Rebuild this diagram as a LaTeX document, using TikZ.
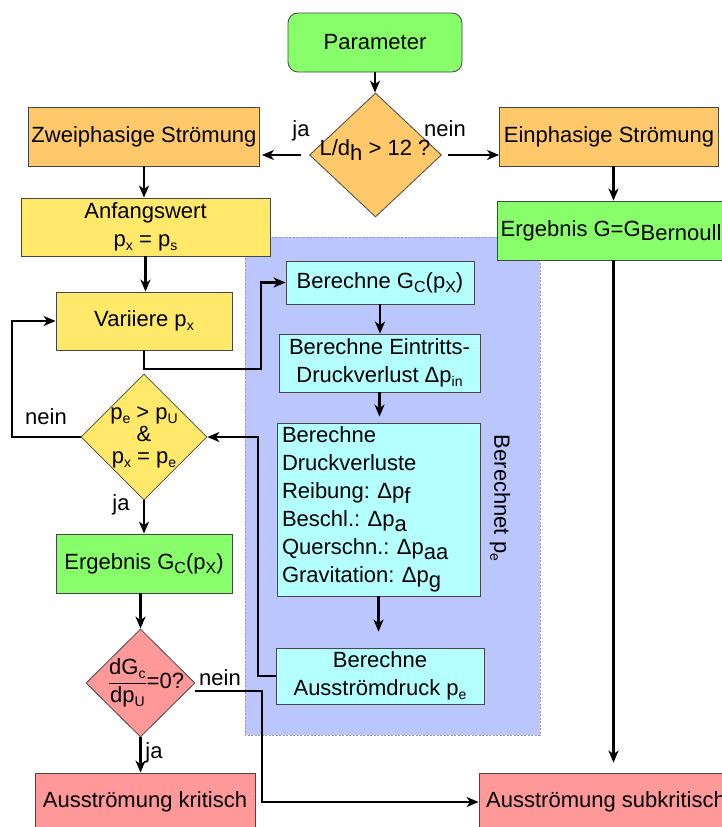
\documentclass[tikz,border=0pt]{standalone}
\usepackage{fontspec}
\setmainfont{Liberation Sans}
\usetikzlibrary{arrows.meta,shapes.geometric}
\definecolor{cgreen}{RGB}{136,255,106}
\definecolor{corange}{RGB}{255,200,106}
\definecolor{cyellow}{RGB}{255,232,106}
\definecolor{ccyan}{RGB}{180,255,255}
\definecolor{cblue}{RGB}{187,198,255}
\definecolor{cred}{RGB}{255,153,153}
\definecolor{cborder}{RGB}{70,70,70}
\newcommand{\subL}[1]{\raisebox{-4.5pt}{#1}}
\newcommand{\subM}[1]{\raisebox{-4.5pt}{\fontsize{16}{16}\selectfont #1}}
\newcommand{\subS}[1]{\raisebox{-4pt}{\fontsize{14}{14}\selectfont #1}}
\frenchspacing
\begin{document}
\begin{tikzpicture}[x=1pt,y=-1pt,
  txt/.style={font=\fontsize{22}{28}\selectfont\frenchspacing, text=black},
  box/.style={txt, draw=cborder, line width=0.8pt, rectangle, inner sep=0pt, align=center},
  diam/.style={draw=cborder, line width=0.8pt, diamond, inner sep=0pt},
  arr/.style={line width=2.1pt, -{Stealth[length=12pt,width=10pt,inset=3.5pt]}}]
\useasboundingbox (0,0) rectangle (722,827);
\clip (0,0) rectangle (722,827);
\fill[white] (0,0) rectangle (722,827);
% region
\draw[fill=cblue, draw=gray!80, dash pattern=on 2pt off 1.5pt, line width=0.8pt] (245,237) rectangle (540,735);
% nodes
\node[box, fill=cgreen, rounded corners=10pt, minimum width=174pt, minimum height=59pt] (param) at (375,42.5) {Parameter};
\node[diam, fill=corange, minimum width=132pt, minimum height=124pt] (d1) at (375.5,155) {};
\node[txt] (d1t) at (375,150) {L/d\subL{h} > 12 ?};
\node[box, fill=corange, minimum width=231pt, minimum height=59pt] (zwei) at (144,136.5) {Zweiphasige Strömung};
\node[box, fill=corange, minimum width=219pt, minimum height=59pt] (ein) at (609,136.5) {Einphasige Strömung};
\node[txt, anchor=base] (ja1) at (301,136) {ja};
\node[txt, anchor=base] (nein1) at (445,136) {nein};
\node[box, fill=cyellow, minimum width=249pt, minimum height=58pt] (anf) at (145.5,227) {Anfangswert\\p\subS{x} = p\subS{s}};
\node[box, fill=cgreen, minimum width=233pt, minimum height=59pt] (bern) at (613.5,230.5) {Ergebnis G=G\subL{Bernoulli}};
\node[box, fill=ccyan, minimum width=188pt, minimum height=43pt] (gcb) at (380,282.5) {Berechne G\subM{C}(p\subM{X})};
\node[box, fill=ccyan, minimum width=201pt, minimum height=58pt] (eintr) at (379.5,363) {Berechne Eintritts-\\Druckverlust Δp\subS{in}};
\node[box, fill=ccyan, minimum width=203pt, minimum height=173pt, align=left, text width=193pt] (druck) at (378.5,509.5) {Berechne\\Druckverluste\\Reibung: Δp\subL{f}\\Beschl.: Δp\subL{a}\\Querschn.: Δp\subL{aa}\\Gravitation: Δp\subL{g}};
\node[txt, rotate=-90] (berp) at (500,498) {Berechnet p\subS{e}};
\node[box, fill=ccyan, minimum width=208pt, minimum height=56pt] (aus) at (380,676) {Berechne\\Ausströmdruck p\subS{e}};
\node[box, fill=cyellow, minimum width=176pt, minimum height=58pt] (var) at (144,321) {Variiere p\subS{x}};
\node[diam, fill=cyellow, minimum width=126pt, minimum height=126pt] (d2) at (144,437) {};
\node[txt, font=\fontsize{22}{22}\selectfont, align=center] (d2t) at (144,437) {p\subS{e} > p\subS{U}\\\&\\p\subS{x} = p\subS{e}};
\node[txt, anchor=base] (nein2) at (46,424) {nein};
\node[txt, anchor=base] (ja2) at (121,510) {ja};
\node[box, fill=cgreen, minimum width=176pt, minimum height=59pt] (ergc) at (144,563.5) {Ergebnis G\subM{C}(p\subM{X})};
\node[diam, fill=cred, minimum width=109pt, minimum height=108pt] (d3) at (140.5,683) {};
\node[txt] (d3t) at (146,683) {$\displaystyle\frac{\mbox{dG\subS{c}}}{\mbox{dp\subS{U}}}$=0?};
\node[txt, anchor=base] (nein3) at (220,685) {nein};
\node[txt, anchor=base] (ja3) at (154,758) {ja};
\node[box, fill=cred, minimum width=220pt, minimum height=58pt] (krit) at (145,802) {Ausströmung kritisch};
\node[box, fill=cred, minimum width=254pt, minimum height=58pt] (subk) at (606,802) {Ausströmung subkritisch};
% helper coordinates
\coordinate (c1) at (261,369);
\coordinate (c2) at (258,437);
\coordinate (c3) at (12,437);
\coordinate (c5) at (262,802);
% connectors
\draw[arr] (param.south) -- (param.south |- d1.north);
\draw[arr, shorten <=8pt, shorten >=2pt] (d1.west) -- (d1.west -| zwei.east);
\draw[arr, shorten <=6pt] (d1.east) -- (d1.east -| ein.west);
\draw[arr] (zwei.south) -- (zwei.south |- anf.north);
\draw[arr] (anf.south) -- (anf.south |- var.north);
\draw[arr] (var.south) |- (c1) |- (gcb.west);
\draw[arr] (gcb.south) -- (gcb.south |- eintr.north);
\draw[arr, shorten >=6pt] (eintr.south) -- (eintr.south |- druck.north);
\draw[arr, shorten >=16pt] (druck.south) -- (druck.south |- aus.north);
\draw[arr] (aus.west) -| (c2) -- (d2.east);
\draw[arr] (d2.west) -- (c3) |- (var.west);
\draw[arr] (d2.south) -- (d2.south |- ergc.north);
\draw[arr] (ergc.south -| d3.north) -- (d3.north);
\draw[arr] ([yshift=-8pt]d3.east) -| (c5) -- (subk.west);
\draw[arr] (d3.south) -- (d3.south |- krit.north);
\draw[arr] (bern.north |- ein.south) -- (bern.north);
\draw[arr, shorten >=10pt] (bern.south) -- (bern.south |- subk.north);
\end{tikzpicture}
\end{document}
